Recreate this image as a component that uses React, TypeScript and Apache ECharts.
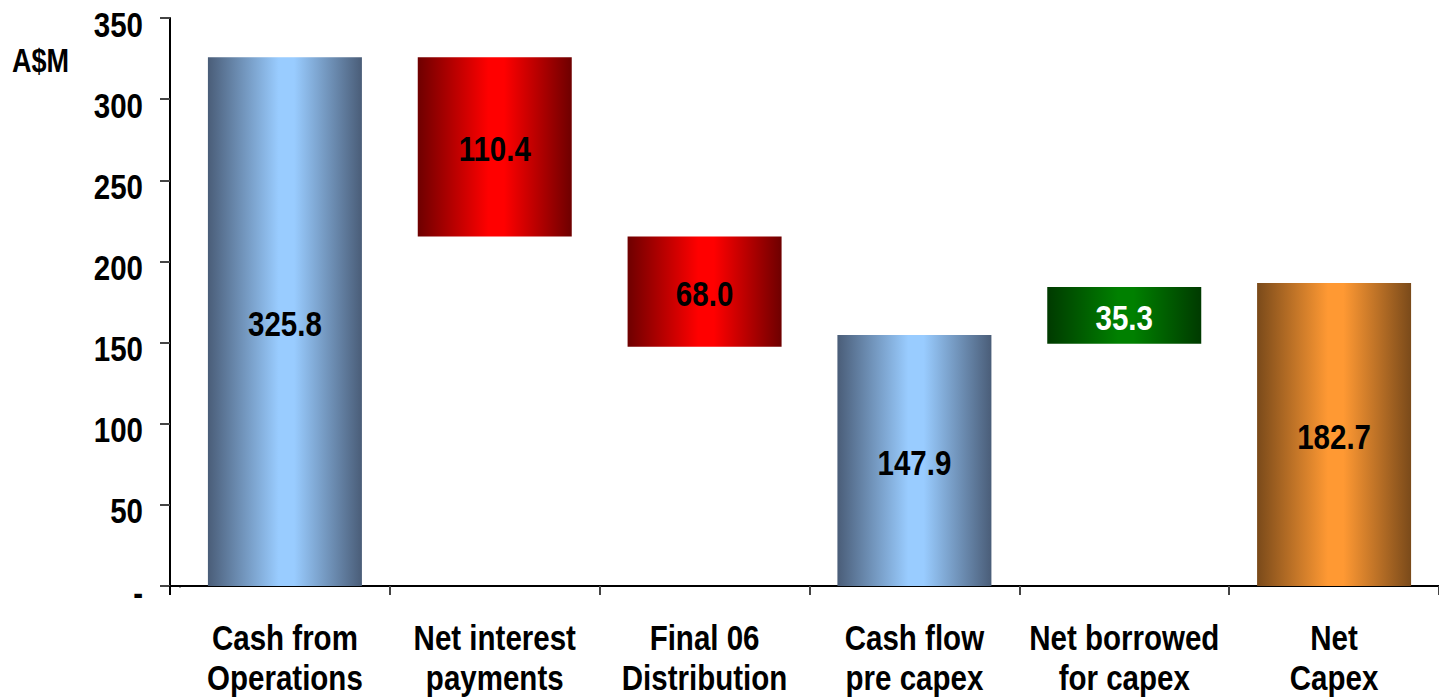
import React, { useEffect, useRef } from "react";
import * as echarts from "echarts";

const categories = [
  "Cash from\nOperations",
  "Net interest\npayments",
  "Final 06\nDistribution",
  "Cash flow\npre capex",
  "Net borrowed\nfor capex",
  "Net\nCapex",
];
// invisible offset under each floating bar (A$M)
const baseValues = [0, 215.4, 147.4, 0, 149.3, 0];
// drawn bar heights (A$M)
const barValues = [325.8, 110.4, 68.0, 154.7, 34.9, 186.7];
// printed labels
const valueLabels = ["325.8", "110.4", "68.0", "147.9", "35.3", "182.7"];
const barKinds = ["total", "down", "down", "total", "up", "result"];
const yTickValues = [0, 50, 100, 150, 200, 250, 300, 350];
const yTickLabels = ["-", "50", "100", "150", "200", "250", "300", "350"];
const yName = "A$M";

const FONT = "'Liberation Sans', Arial, sans-serif";
const NARROW = 0.82; // Arial Narrow ≈ Arial compressed horizontally
const AXIS_X = 170;
const GRID_LEFT = 180;

const grad = (edge: string, mid: string) => ({
  type: "linear",
  x: 0,
  y: 0,
  x2: 1,
  y2: 0,
  colorStops: [
    { offset: 0, color: edge },
    { offset: 0.46, color: mid },
    { offset: 0.56, color: mid },
    { offset: 1, color: edge },
  ],
});

const styles: Record<string, any> = {
  total: { color: grad("#4a5d78", "#99ccff"), label: "#000000" },
  down: { color: grad("#6e0000", "#ff0000"), label: "#000000" },
  up: { color: grad("#003a00", "#008000"), label: "#ffffff" },
  result: { color: grad("#7a4a1a", "#ff9933"), label: "#000000" },
};

const narrowText = (
  x: number,
  y: number,
  text: string,
  size: number,
  align: string,
  fill = "#000000",
  lineHeight?: number
) => ({
  type: "text",
  x,
  y,
  scaleX: NARROW,
  silent: true,
  z: 100,
  style: {
    text,
    x: 0,
    y: 0,
    align,
    verticalAlign: "middle",
    font: `bold ${size}px ${FONT}`,
    fill,
    lineHeight,
  },
});

export default function App() {
  const ref = useRef<HTMLDivElement>(null);
  useEffect(() => {
    if (!ref.current) return;
    const chart = echarts.init(ref.current, null, { renderer: "svg" });
    chart.setOption({
      animation: false,
      backgroundColor: "#ffffff",
      grid: { left: GRID_LEFT, right: -20, top: 18, bottom: 114, containLabel: false },
      xAxis: {
        type: "category",
        data: categories,
        axisLine: { show: true, lineStyle: { color: "#000000", width: 2 } },
        axisTick: { show: true, length: 9, lineStyle: { color: "#444444", width: 2 } },
        axisLabel: { show: false },
      },
      yAxis: {
        type: "value",
        min: 0,
        max: 350,
        interval: 50,
        offset: GRID_LEFT - AXIS_X,
        splitLine: { show: false },
        axisLine: { show: true, lineStyle: { color: "#000000", width: 2 } },
        axisTick: { show: true, length: 10, lineStyle: { color: "#444444", width: 2 } },
        axisLabel: { show: false },
      },
      series: [
        {
          type: "bar",
          stack: "wf",
          barWidth: 154,
          silent: true,
          itemStyle: { color: "transparent" },
          data: baseValues,
        },
        {
          type: "bar",
          stack: "wf",
          barWidth: 154,
          data: barValues.map((v, i) => ({
            value: v,
            itemStyle: { color: styles[barKinds[i]].color },
          })),
        },
      ],
    });

    const y0 = chart.convertToPixel({ yAxisIndex: 0 }, 0) as number;
    const elements: any[] = [
      // hide the grid-edge tick of the x axis (the y axis stands 10px further left)
      {
        type: "line",
        silent: true,
        z: 50,
        shape: { x1: GRID_LEFT, y1: y0 + 1.5, x2: GRID_LEFT, y2: y0 + 11 },
        style: { stroke: "#ffffff", lineWidth: 4 },
      },
      {
        type: "line",
        silent: true,
        z: 51,
        shape: { x1: AXIS_X, y1: y0, x2: GRID_LEFT + 1, y2: y0 },
        style: { stroke: "#000000", lineWidth: 2 },
      },
      {
        type: "line",
        silent: true,
        z: 51,
        shape: { x1: AXIS_X, y1: y0, x2: AXIS_X, y2: y0 + 9 },
        style: { stroke: "#000000", lineWidth: 2 },
      },
      {
        type: "text",
        x: 12,
        y: 61,
        scaleX: NARROW,
        silent: true,
        style: {
          text: yName,
          x: 0,
          y: 0,
          align: "left",
          verticalAlign: "middle",
          font: `bold 33px ${FONT}`,
          fill: "#000000",
        },
      },
    ];
    yTickValues.forEach((v, i) => {
      const py = chart.convertToPixel({ yAxisIndex: 0 }, v) as number;
      elements.push(narrowText(143, py + 6, yTickLabels[i], 36, "right"));
    });
    categories.forEach((c, i) => {
      const px = chart.convertToPixel({ xAxisIndex: 0 }, i) as number;
      elements.push(narrowText(px, 657, c, 36, "center", "#000000", 40));
      const mid = chart.convertToPixel({ seriesIndex: 1 }, [
        i,
        baseValues[i] + barValues[i] / 2,
      ]) as number[];
      elements.push(
        narrowText(px, mid[1] + 2, valueLabels[i], 36, "center", styles[barKinds[i]].label)
      );
    });
    chart.setOption({ graphic: { elements } });
    return () => chart.dispose();
  }, []);
  return (
    <div
      ref={ref}
      style={{ position: "absolute", left: 0, top: 0, width: 1439, height: 700 }}
    />
  );
}
